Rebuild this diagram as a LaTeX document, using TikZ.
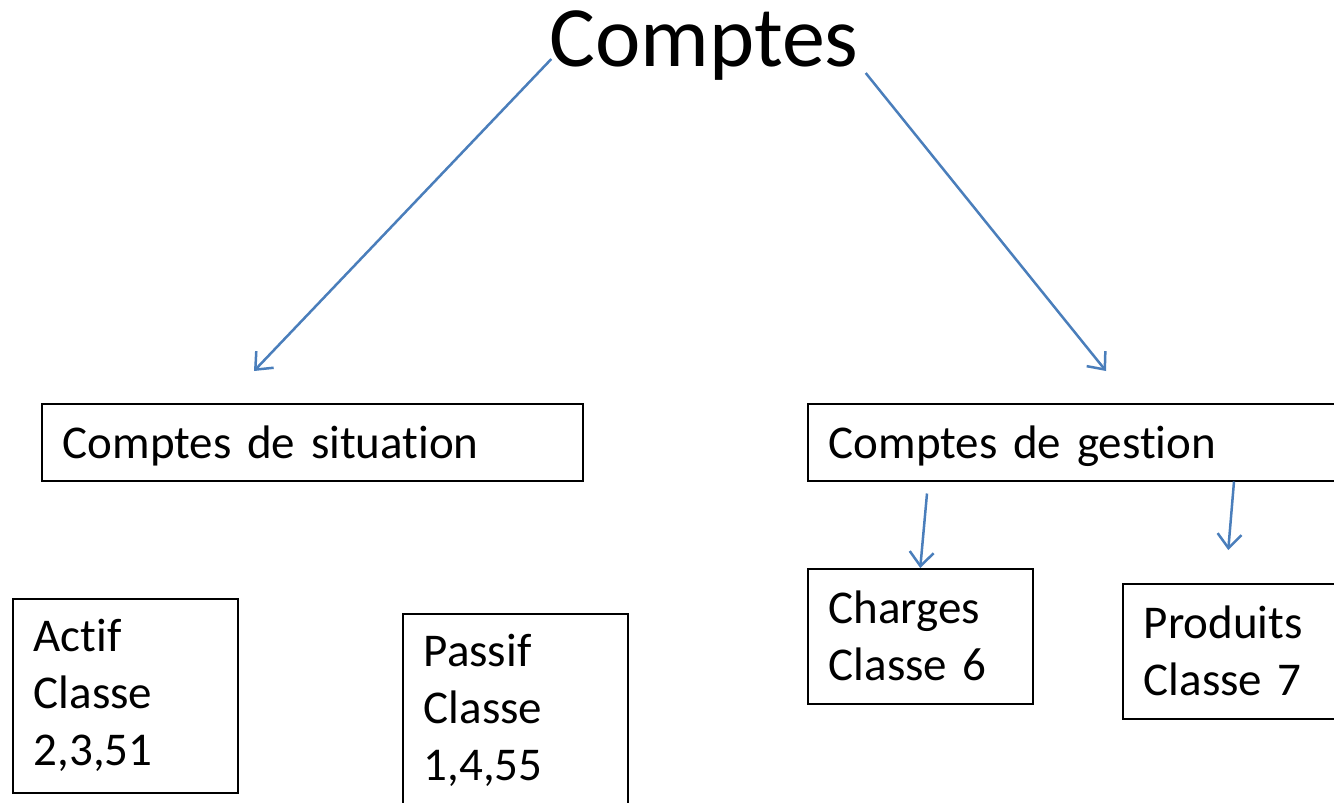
\documentclass[tikz,border=0pt]{standalone}
\usepackage{fontspec}
\setmainfont{Carlito}[Ligatures={NoCommon}]
\usepackage{tikz}
\usepackage{xcolor}
\usetikzlibrary{calc}
\usetikzlibrary{arrows.meta}

\definecolor{bleu}{RGB}{74,126,187}

\begin{document}
\begin{tikzpicture}[x=1pt,y=-1pt]

\tikzset{
    boite/.style = {
    draw, line width=1.5pt, anchor=north west,
    align=left, inner xsep=21pt, inner ysep=0pt,
    font=\fontsize{47}{57}\selectfont
    }
}

\tikzstyle{fleche}=[-{Straight Barb[length=14pt,width=24pt]}, line width=2.5pt, draw=bleu]

\useasboundingbox (0,0) rectangle (1334,803);
\clip (0,0) rectangle (1334,803);

\node (titre) [anchor=base, inner sep=0pt, font=\fontsize{86}{100}\selectfont] at (704,66) {Comptes};

\node (situation) [boite, minimum width=541, minimum height=77, text width=499, text depth=0pt] at (41,403) {Comptes de situation};
\node (gestion) [boite, minimum width=541, minimum height=77, text width=499, text depth=0pt] at (807,403) {Comptes de gestion};

\node (actif) [boite, minimum width=225, minimum height=194, text width=183] at (12,598) {Actif\\Classe\\2,3,51};
\node (passif) [boite, minimum width=225, minimum height=194, text width=183] at (402,613) {Passif\\Classe\\1,4,55};

\node (charges) [boite, minimum width=225, minimum height=135, text width=183] at (807,568) {Charges\\Classe 6};
\node (produits) [boite, minimum width=225, minimum height=135, text width=183] at (1122,583) {Produits\\Classe 7};

\draw[fleche] ([shift={(2,14)}]titre.west) -- ([shift={(213,-32)}]situation.north west);
\draw[fleche] ([shift={(7,28)}]titre.east) -- ([shift={(299,-32)}]gestion.north west);

\draw[fleche] ([shift={(120,12)}]gestion.south west) -- (charges.north);
\draw[fleche] ([shift={(427,0)}]gestion.south west) -- ([shift={(-7,-33)}]produits.north);

\end{tikzpicture}
\end{document}
